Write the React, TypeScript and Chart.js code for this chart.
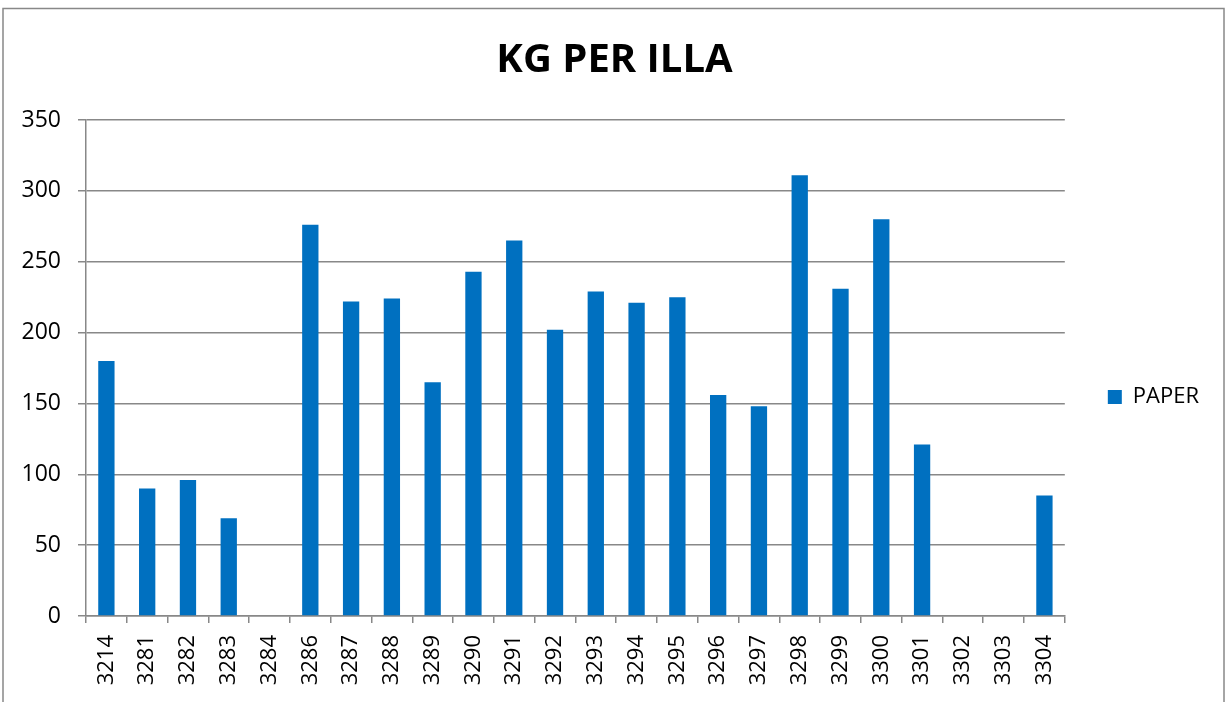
import React, { useEffect, useRef } from "react";
import { Chart, registerables } from "chart.js";

Chart.register(...registerables);

const categories: string[] = [
  "3214", "3281", "3282", "3283", "3284", "3286", "3287", "3288", "3289", "3290",
  "3291", "3292", "3293", "3294", "3295", "3296", "3297", "3298", "3299", "3300",
  "3301", "3302", "3303", "3304",
];

const paperValues: number[] = [
  180, 90, 96, 69, 0, 276, 222, 224, 165, 243,
  265, 202, 229, 221, 225, 156, 148, 311, 231, 280,
  121, 0, 0, 85,
];

const seriesName = "PAPER";
const chartTitle = "KG PER ILLA";
const yMin = 0;
const yMax = 350;
const yStep = 50;

const FONT = "'Open Sans', 'DejaVu Sans', sans-serif";
const GRID = "#888888";
const PAD_LEFT = 20;

const borderPlugin = {
  id: "outerBorder",
  beforeDraw(chart: any) {
    const ctx = chart.ctx;
    ctx.save();
    ctx.fillStyle = "#ffffff";
    ctx.fillRect(0, 0, chart.width, chart.height);
    ctx.strokeStyle = "#888888";
    ctx.lineWidth = 1.5;
    ctx.strokeRect(3, 8.5, 1221, 800);
    ctx.restore();
  },
};

export default function App() {
  const canvasRef = useRef<HTMLCanvasElement | null>(null);

  useEffect(() => {
    if (!canvasRef.current) return;
    const chart = new Chart(canvasRef.current, {
      type: "bar",
      data: {
        labels: categories,
        datasets: [
          {
            label: seriesName,
            data: paperValues,
            backgroundColor: "#0070C0",
            borderWidth: 0,
            barPercentage: 0.4,
            categoryPercentage: 1.0,
          },
        ],
      },
      options: {
        responsive: false,
        animation: false,
        layout: { padding: { left: PAD_LEFT, top: 0, right: 18, bottom: 0 } },
        plugins: {
          title: {
            display: true,
            text: chartTitle,
            color: "#000000",
            font: { family: FONT, size: 40, weight: "bold", lineHeight: 1.2 },
            padding: { top: 37, bottom: 35 },
          },
          legend: {
            display: true,
            position: "right",
            title: {
              display: true,
              text: " ",
              font: { family: FONT, size: 20, lineHeight: 1.2 },
              padding: { top: 0, bottom: 68 },
            },
            labels: {
              boxWidth: 14,
              boxHeight: 14,
              padding: 43,
              color: "#000000",
              font: { family: FONT, size: 22 },
            },
          },
          tooltip: { enabled: false },
        },
        scales: {
          x: {
            offset: true,
            grid: {
              display: true,
              offset: true,
              drawOnChartArea: false,
              drawTicks: true,
              tickLength: 7,
              color: GRID,
              lineWidth: 1.5,
            },
            border: { display: true, color: GRID, width: 1.5 },
            ticks: {
              autoSkip: false,
              maxRotation: 90,
              minRotation: 90,
              padding: 12,
              color: "#000000",
              font: { family: FONT, size: 22 },
            },
            afterFit(scale: any) {
              scale.height = 86;
            },
          },
          y: {
            min: yMin,
            max: yMax,
            grid: {
              color: GRID,
              lineWidth: 1.5,
              drawTicks: true,
              tickLength: 8,
            },
            border: { display: true, color: GRID, width: 1.5 },
            ticks: {
              stepSize: yStep,
              padding: 17,
              color: "#000000",
              font: { family: FONT, size: 23 },
            },
            afterFit(scale: any) {
              scale.width = 86 - PAD_LEFT;
            },
          },
        },
      },
      plugins: [borderPlugin],
    });
    return () => chart.destroy();
  }, []);

  return (
    <div style={{ position: "fixed", left: 0, top: 0, width: 1227, height: 702, background: "#fff" }}>
      <canvas ref={canvasRef} width={1227} height={702} style={{ display: "block", width: 1227, height: 702 }} />
    </div>
  );
}
